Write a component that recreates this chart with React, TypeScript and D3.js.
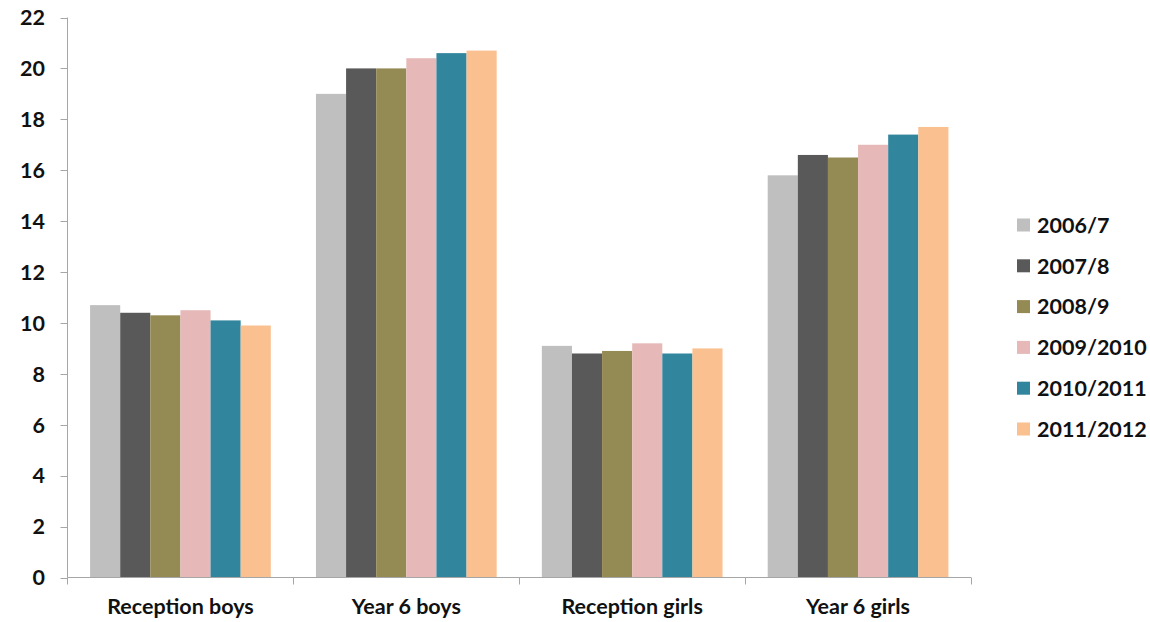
import React from "react";
import * as d3 from "d3";

const categories = ["Reception boys", "Year 6 boys", "Reception girls", "Year 6 girls"];
const seriesNames = ["2006/7", "2007/8", "2008/9", "2009/2010", "2010/2011", "2011/2012"];
const s2006 = [10.7, 19.0, 9.1, 15.8];
const s2007 = [10.4, 20.0, 8.8, 16.6];
const s2008 = [10.3, 20.0, 8.9, 16.5];
const s2009 = [10.5, 20.4, 9.2, 17.0];
const s2010 = [10.1, 20.6, 8.8, 17.4];
const s2011 = [9.9, 20.7, 9.0, 17.7];
const seriesValues = [s2006, s2007, s2008, s2009, s2010, s2011];
const colors = ["#BFBFBF", "#595959", "#948A54", "#E6B9B8", "#31859C", "#FAC090"];
const yTicks = [0, 2, 4, 6, 8, 10, 12, 14, 16, 18, 20, 22];

const W = 1150, H = 622;
const left = 67.5, right = 971, top = 17.5, bottom = 577.5;
const font = "Lato, 'Open Sans', sans-serif";
const fs = 21.5;

export default function App() {
  const y = d3.scaleLinear().domain([0, 22]).range([bottom, top]);
  const x0 = d3.scaleBand<string>().domain(categories).range([left, right]).padding(0);
  const bw = x0.bandwidth();
  const x1 = d3.scaleBand<string>().domain(seriesNames).range([bw * 0.1, bw * 0.9]).padding(0);
  const axisColor = "#A6A6A6";
  return (
    <svg width={W} height={H} style={{ position: "absolute", left: 0, top: 0, background: "#fff" }}>
      {categories.map((c, ci) => (
        <g key={c} transform={`translate(${x0(c)},0)`}>
          {seriesNames.map((s, si) => {
            const v = seriesValues[si][ci];
            return (
              <rect key={s} x={x1(s)} y={y(v)} width={x1.bandwidth()} height={y(0) - y(v)} fill={colors[si]} />
            );
          })}
        </g>
      ))}
      <line x1={left} x2={left} y1={top} y2={bottom} stroke={axisColor} strokeWidth={1} />
      {yTicks.map((t) => (
        <g key={t}>
          <line x1={left - 7} x2={left} y1={Math.round(y(t)) + 0.5} y2={Math.round(y(t)) + 0.5} stroke={axisColor} />
          <text x={45} y={y(t)} dy="0.36em" textAnchor="end" fontFamily={font} fontWeight="bold" fontSize={fs} fill="#111">
            {t}
          </text>
        </g>
      ))}
      <line x1={left} x2={right} y1={bottom} y2={bottom} stroke={axisColor} strokeWidth={1} />
      {categories.map((c, i) => (
        <line key={"t" + i} x1={Math.round(x0(c)! + bw) + 0.5} x2={Math.round(x0(c)! + bw) + 0.5} y1={bottom} y2={bottom + 7} stroke={axisColor} />
      ))}
      <line x1={left} x2={left} y1={bottom} y2={bottom + 7} stroke={axisColor} />
      {categories.map((c) => (
        <text key={"l" + c} x={x0(c)! + bw / 2} y={614} textAnchor="middle" fontFamily={font} fontWeight="bold" fontSize={fs} fill="#111">
          {c}
        </text>
      ))}
      {seriesNames.map((s, i) => {
        const cy = 225 + i * 40.8;
        return (
          <g key={"lg" + s}>
            <rect x={1017} y={cy - 6.5} width={13} height={13} fill={colors[i]} />
            <text x={1037} y={cy} dy="0.36em" fontFamily={font} fontWeight="bold" fontSize={fs} fill="#111">
              {s}
            </text>
          </g>
        );
      })}
    </svg>
  );
}
